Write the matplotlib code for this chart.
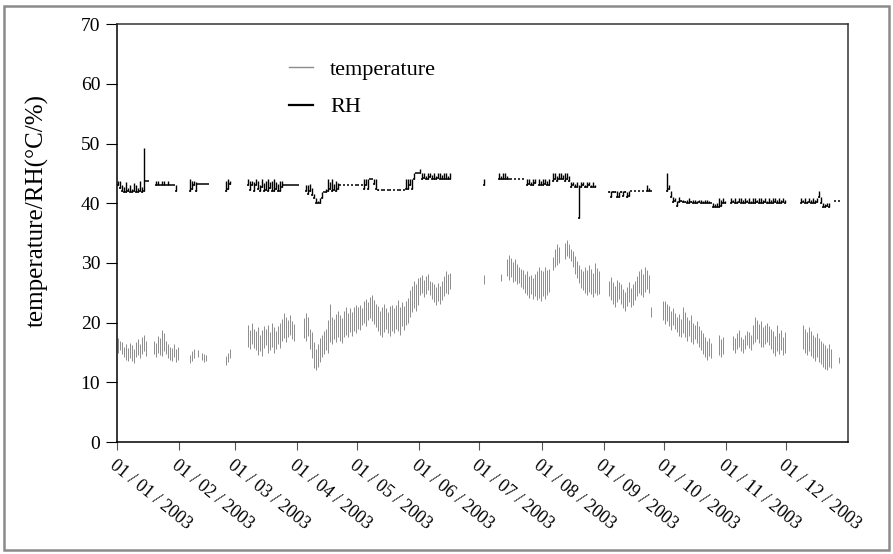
import numpy as np
import matplotlib.pyplot as plt
from matplotlib.patches import Rectangle
from matplotlib.lines import Line2D
from matplotlib.transforms import ScaledTranslation

plt.rcParams['font.family'] = ['Liberation Serif', 'DejaVu Serif']

n = None  # missing day

# daily min / max temperature (degC), one row per month
t_lo = [
    15.0,15.5,14.8,14.2,13.8,13.5,14.0,13.6,13.3,14.2,14.6,14.0,14.8,15.2,14.5,n,n,n,14.8,14.2,15.0,14.6,14.4,15.2,14.8,14.0,13.8,13.6,14.2,13.4,13.8,
    n,n,n,n,n,13.2,13.6,14.0,n,14.2,n,13.8,13.4,13.6,n,n,n,n,n,n,n,n,n,12.9,13.4,14.0,n,n,
    n,n,n,n,n,n,16.0,15.6,16.4,15.8,15.4,14.6,15.2,14.4,15.8,16.2,15.0,15.4,16.0,14.9,15.6,16.4,15.8,17.0,17.4,16.8,17.6,18.0,17.2,17.0,n,
    n,n,n,17.4,17.0,17.8,15.6,14.0,12.4,12.0,12.6,13.4,14.2,14.8,15.4,15.0,16.8,16.5,17.2,16.8,17.6,17.0,16.6,17.6,18.0,17.6,18.4,17.8,18.6,18.2,
    19.0,18.8,19.6,20.0,19.4,20.4,20.8,20.2,19.8,19.2,18.6,18.0,17.6,18.4,19.0,18.2,17.8,18.6,18.2,19.0,18.6,18.0,19.4,18.8,19.6,20.0,21.0,21.8,22.4,22.0,23.0,
    24.6,25.0,24.3,24.8,25.4,24.6,24.0,23.4,23.0,23.6,23.2,23.8,24.4,25.0,24.8,25.6,n,n,n,n,n,n,n,n,n,n,n,n,n,n,
    n,n,26.4,n,n,n,n,n,n,n,27.0,n,n,27.8,27.2,27.6,26.8,27.0,26.4,26.6,26.0,25.6,25.0,24.6,24.2,24.8,24.0,24.4,23.8,24.2,23.7,
    24.4,24.0,24.6,25.2,n,28.8,29.4,29.6,30.0,n,n,30.6,31.2,30.8,30.4,29.4,28.2,27.4,26.6,25.8,25.4,25.0,24.6,25.2,24.8,24.3,25.0,24.6,24.8,n,n,
    n,n,24.4,23.8,23.2,22.6,23.4,24.0,23.2,22.4,22.0,22.8,23.4,22.6,23.0,23.8,24.4,25.0,24.6,24.3,25.2,25.6,25.0,21.0,n,n,n,n,n,20.4,
    19.8,20.2,19.4,18.8,19.6,19.0,18.4,17.8,17.6,18.2,17.6,17.0,17.8,16.8,16.5,17.2,16.6,16.0,15.4,14.8,14.2,13.7,14.4,14.0,n,n,n,14.6,14.2,14.8,n,
    n,n,n,15.4,15.0,15.6,16.0,15.2,14.9,15.6,16.2,15.8,15.4,16.4,16.8,17.2,16.6,16.0,15.9,16.4,16.8,16.2,15.6,15.0,14.5,15.2,14.8,15.4,14.6,15.0,
    n,n,n,n,n,n,n,n,15.6,15.0,14.6,15.2,14.4,14.0,13.6,14.2,13.4,13.0,12.6,12.2,12.0,12.6,12.4,n,n,n,13.2,n,n,n,n,
]
t_hi = [
    17.4,17.0,16.8,16.0,16.4,15.8,16.6,16.2,15.6,16.8,17.2,16.4,17.6,18.0,17.0,n,n,n,17.0,16.6,17.8,17.4,18.7,18.2,17.0,16.4,16.0,15.8,16.4,15.6,16.0,
    n,n,n,n,n,14.6,15.2,15.6,n,15.4,n,15.0,14.8,14.6,n,n,n,n,n,n,n,n,n,14.4,15.0,15.6,n,n,
    n,n,n,n,n,n,19.6,18.8,19.9,19.0,18.6,19.2,18.0,18.8,19.4,19.0,19.6,18.4,19.9,19.2,18.6,19.4,20.0,20.6,21.6,21.0,20.4,21.2,20.2,19.8,n,
    n,n,n,20.8,21.6,21.0,19.0,18.4,16.8,15.6,16.4,17.4,18.0,18.6,19.0,20.4,23.2,21.0,20.6,21.4,22.0,21.2,20.8,22.0,22.7,21.6,22.4,21.8,22.6,23.0,
    22.6,23.0,22.4,23.6,24.0,23.4,24.3,24.6,23.8,23.2,22.8,22.0,22.6,23.2,22.4,21.8,22.8,23.0,22.4,23.0,23.8,22.6,23.4,22.8,23.6,24.2,25.4,26.2,27.0,26.4,27.4,
    27.6,28.0,27.2,27.8,28.2,27.0,26.8,26.4,26.0,26.6,26.2,27.0,27.8,28.6,28.2,28.4,n,n,n,n,n,n,n,n,n,n,n,n,n,n,
    n,n,27.9,n,n,n,n,n,n,n,28.2,n,n,30.6,31.3,30.8,30.2,30.6,29.8,29.4,29.0,28.8,28.2,28.6,27.8,28.0,27.4,28.2,28.6,29.3,28.8,
    28.6,29.3,28.8,29.0,n,31.0,32.4,33.2,32.6,n,n,33.4,33.8,33.2,32.4,32.0,31.2,30.4,29.6,29.0,28.6,29.4,28.8,29.6,29.0,28.4,30.0,29.2,28.6,n,n,
    n,n,27.0,27.6,26.8,26.2,27.2,26.8,26.4,25.6,25.2,26.0,26.8,25.8,26.4,27.0,27.8,28.6,29.0,28.2,29.3,28.8,28.0,22.7,n,n,n,n,n,23.7,
    23.7,23.2,22.8,22.0,22.4,21.6,21.0,21.4,20.6,22.6,21.8,21.0,20.4,21.2,20.0,19.6,20.2,19.4,18.7,18.2,17.6,17.0,17.4,16.6,n,n,n,17.9,17.2,17.6,n,
    n,n,n,17.8,17.4,18.2,18.7,17.6,17.2,18.0,18.6,18.4,18.0,19.6,20.9,20.4,19.8,20.2,19.2,19.6,20.0,19.4,19.0,18.6,17.8,19.6,18.2,18.8,17.6,18.4,
    n,n,n,n,n,n,n,n,19.6,19.0,18.4,19.2,18.6,18.0,17.6,18.2,17.4,17.0,16.6,16.2,15.8,16.4,15.6,n,n,n,14.2,n,n,n,n,
]

# daily min / max relative humidity (%)
rh_lo = [
    43.0,42.6,42.0,41.9,41.9,42.0,41.9,41.9,42.0,41.9,41.9,42.0,41.9,42.0,43.8,43.8,n,n,n,43.0,43.0,43.0,43.0,43.0,43.0,43.0,43.0,43.0,43.0,42.0,n,
    n,n,n,n,n,42.0,42.4,43.0,42.0,43.2,43.2,43.2,43.2,43.2,43.2,n,n,n,n,n,n,n,n,42.0,42.4,43.2,n,n,
    n,n,n,n,n,n,43.0,42.2,43.0,42.0,43.0,42.4,42.0,42.8,42.0,42.2,42.0,42.6,42.0,42.0,42.4,42.0,42.0,42.8,43.0,43.0,43.0,43.0,43.0,43.0,43.0,
    43.0,n,n,n,42.0,41.6,42.0,41.4,40.8,40.0,40.0,40.0,40.8,41.9,41.9,42.0,42.4,42.0,42.2,42.0,42.4,43.0,n,43.0,n,43.0,n,43.0,n,43.0,
    43.0,n,43.0,42.4,43.0,42.4,44.0,44.0,43.2,42.4,42.3,n,42.3,42.3,n,42.3,42.3,n,42.3,n,42.3,42.3,n,42.3,42.4,42.4,43.0,42.4,44.0,45.0,45.0,
    45.0,44.0,44.2,44.0,44.0,44.4,44.0,44.0,44.0,44.2,44.0,44.0,44.0,44.0,44.0,44.0,n,n,n,n,n,n,n,n,n,n,n,n,n,n,
    n,n,43.0,n,n,n,n,n,n,44.0,44.0,44.0,44.0,44.0,44.0,44.0,n,44.0,n,44.0,n,44.0,n,43.0,43.2,43.0,43.0,43.4,n,43.0,43.0,
    43.0,43.2,43.0,43.0,n,43.8,44.0,43.8,44.0,44.0,44.0,43.8,44.0,43.8,42.8,43.0,42.8,42.8,37.6,42.8,43.0,42.8,42.8,43.0,42.8,42.8,42.8,n,n,n,n,
    n,n,41.9,41.0,41.9,41.9,41.0,41.0,41.9,41.2,41.9,41.0,41.2,42.0,n,42.0,n,42.0,n,42.0,n,42.0,42.0,42.0,n,n,n,n,n,n,
    n,42.0,42.4,41.0,40.2,40.4,39.6,40.2,40.4,40.2,40.2,40.0,40.0,40.2,40.0,40.0,40.0,40.2,40.0,40.0,40.0,40.0,40.0,40.0,39.3,39.3,39.3,39.3,39.6,40.0,40.0,
    n,n,40.0,40.2,40.0,40.0,40.2,40.0,40.0,40.0,40.2,40.0,40.0,40.0,40.0,40.2,40.0,40.0,40.0,40.2,40.0,40.0,40.0,40.0,40.2,40.0,40.0,40.0,40.2,40.0,
    n,n,n,n,n,n,n,40.0,40.2,40.0,40.0,40.2,40.0,40.0,40.0,40.2,41.0,40.0,39.3,39.3,39.6,39.3,n,n,40.3,n,40.3,n,n,n,n,
]
rh_hi = [
    43.8,43.8,43.0,42.8,43.6,42.6,43.0,42.4,43.4,43.0,42.6,43.8,42.8,49.2,43.8,43.8,n,n,n,43.8,43.8,43.0,43.8,43.8,43.0,43.8,43.0,43.0,43.0,43.0,n,
    n,n,n,n,n,44.0,43.8,43.8,43.6,43.2,43.2,43.2,43.2,43.2,43.2,n,n,n,n,n,n,n,n,43.8,44.0,43.8,n,n,
    n,n,n,n,n,n,44.0,43.8,43.8,43.6,44.0,43.8,43.0,44.0,43.4,43.8,44.0,43.6,43.8,44.0,43.6,43.2,43.8,43.8,43.0,43.0,43.0,43.0,43.0,43.0,43.0,
    43.0,n,n,n,43.0,43.0,43.2,42.6,41.6,40.8,40.4,40.8,41.9,41.9,42.4,44.0,43.6,44.0,43.2,43.8,43.4,43.0,n,43.0,n,43.0,n,43.0,n,43.0,
    43.0,n,43.0,44.0,44.0,44.0,44.0,44.0,44.0,44.0,42.4,n,42.3,42.3,n,42.3,42.3,n,42.3,n,42.3,42.3,n,42.3,44.0,44.0,44.0,44.0,45.0,45.0,45.0,
    45.8,45.0,45.0,44.6,45.0,45.0,44.8,45.0,44.6,45.0,45.0,44.8,45.0,45.0,44.6,45.0,n,n,n,n,n,n,n,n,n,n,n,n,n,n,
    n,n,44.0,n,n,n,n,n,n,45.0,44.6,45.0,45.0,44.6,44.0,44.0,n,44.0,n,44.0,n,44.0,n,44.0,44.0,43.6,44.0,44.0,n,44.0,43.8,
    44.0,44.0,43.8,44.0,n,45.0,45.0,44.6,45.0,45.0,44.8,45.0,45.0,44.6,43.5,43.5,43.2,43.5,43.0,43.5,43.5,43.0,43.5,43.5,43.0,43.5,43.0,n,n,n,n,
    n,n,42.1,42.0,42.1,42.1,42.1,41.9,42.1,42.0,42.1,41.9,42.0,42.0,n,42.0,n,42.0,n,42.0,n,43.0,42.6,42.0,n,n,n,n,n,n,
    n,45.0,43.0,42.0,41.0,40.8,40.4,41.0,40.6,40.6,40.4,40.5,40.8,40.4,40.6,40.5,40.4,40.6,40.5,40.4,40.5,40.6,40.4,40.0,40.0,39.8,40.0,40.8,40.6,40.8,40.4,
    n,n,40.8,40.6,40.8,40.4,40.8,40.8,40.6,40.8,40.6,40.8,40.4,40.8,40.8,40.6,40.8,40.8,40.6,40.8,40.4,40.8,40.6,40.8,40.8,40.6,40.8,40.6,40.8,40.6,
    n,n,n,n,n,n,n,40.8,40.6,40.8,40.4,40.8,40.6,40.8,40.6,40.8,42.0,41.0,40.0,39.8,40.0,40.0,n,n,40.3,n,40.3,n,n,n,n,
]

month_len = [31, 28, 31, 30, 31, 30, 31, 31, 30, 31, 30, 31]
month_labels = ['01 / %02d / 2003' % m for m in range(1, 13)]

for arr in (t_lo, t_hi, rh_lo, rh_hi):
    assert len(arr) == 365, len(arr)

t_lo = np.array(t_lo, dtype=float)
t_hi = np.array(t_hi, dtype=float)
rh_lo = np.array(rh_lo, dtype=float)
rh_hi = np.array(rh_hi, dtype=float)
day = np.arange(365) + 0.5
month_start = np.cumsum([0] + month_len[:-1])

fig = plt.figure(figsize=(8.93, 5.54), dpi=100)
fig.patches.append(Rectangle((0.004, 0.008), 0.992, 0.982, transform=fig.transFigure,
                             fill=False, edgecolor='#8a8a8a', linewidth=1.8))
ax = fig.add_axes([0.131, 0.202, 0.8186, 0.7545])

tcol = '#8c8c8c'
ax.vlines(day, t_lo, t_hi, color=tcol, linewidth=0.7)
ax.hlines(rh_lo, day - 0.5, day + 0.5, color='black', linewidth=1.1)
ax.vlines(day, rh_lo, rh_hi, color='black', linewidth=1.0)

ax.set_xlim(0, 365)
ax.set_ylim(0, 70)
ax.set_yticks(range(0, 71, 10))
ax.set_xticks(month_start)
ax.set_xticklabels(month_labels, rotation=-39, ha='left', va='top',
                   rotation_mode='anchor', fontsize=13)
shift = ScaledTranslation(4 / 72, 0, fig.dpi_scale_trans)
for lab in ax.get_xticklabels():
    lab.set_transform(lab.get_transform() + shift)
ax.tick_params(axis='y', labelsize=14, length=8, width=0.8, direction='out', pad=4)
ax.tick_params(axis='x', length=6, width=0.8, direction='out', pad=5, color='#555555')
ax.set_ylabel('temperature/RH(°C/%)', fontsize=18)
ax.yaxis.set_label_coords(-0.094, 0.553)

for s in ['left', 'bottom']:
    ax.spines[s].set_linewidth(1.1)
for s in ['top', 'right']:
    ax.spines[s].set_linewidth(1.1)
    ax.spines[s].set_color('#333333')

handles = [Line2D([], [], color=tcol, linewidth=1.0),
           Line2D([], [], color='black', linewidth=1.6)]
ax.legend(handles, ['temperature', 'RH'], loc='upper left',
          bbox_to_anchor=(0.235, 0.915), frameon=False, fontsize=16,
          handlelength=1.1, handletextpad=0.75, labelspacing=0.75,
          borderpad=0, borderaxespad=0)

fig.savefig('out.png', dpi=100)
